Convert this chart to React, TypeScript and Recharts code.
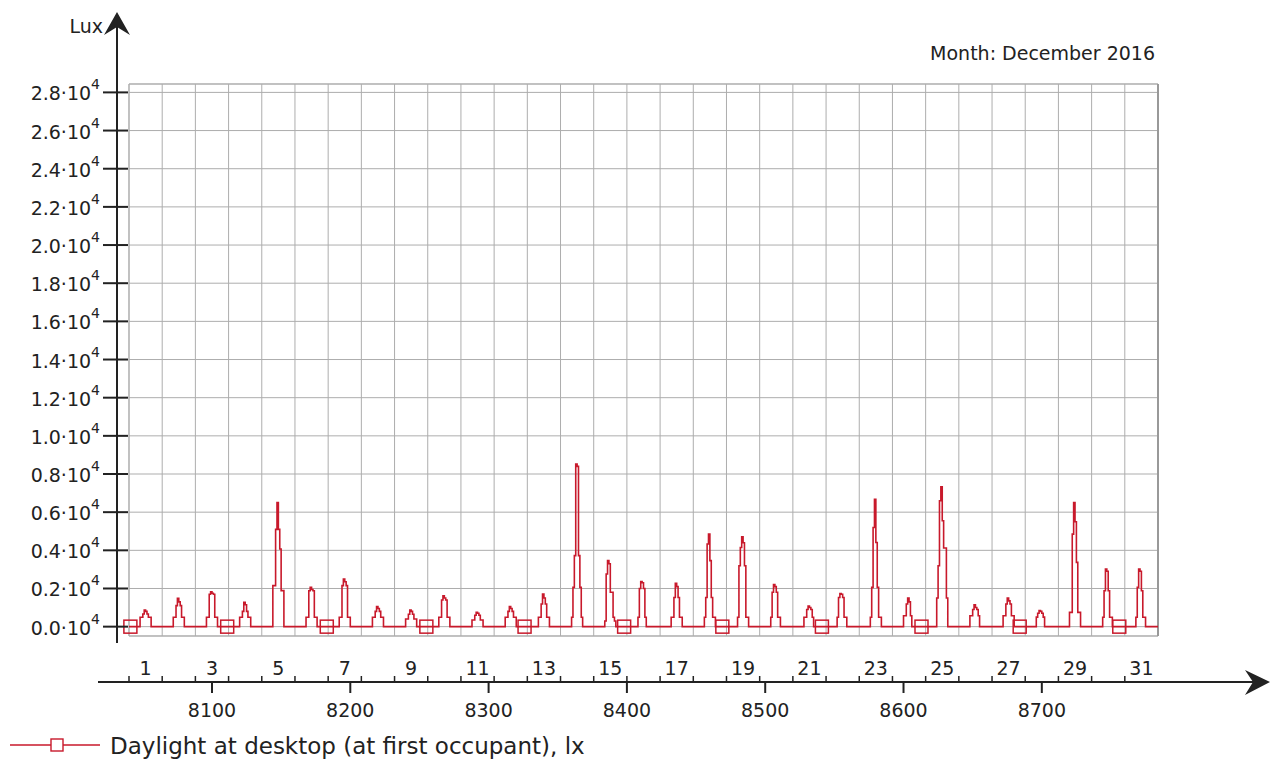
import React from "react";
import {
  LineChart,
  Line,
  XAxis,
  YAxis,
  CartesianGrid,
  ReferenceArea,
  ReferenceLine,
  Legend,
  Customized,
} from "recharts";

// Hour of year where December 2016 starts (leap year: 335 days * 24)
const FIRST_HOUR = 8040;
const HOURS_PER_DAY = 24;
// Each daily profile starts at 08:00
const PROFILE_START = 8;

// Hourly daylight at the desktop, lux, from 08:00 of each December day
const dailyLux: number[][] = [
  [490, 490, 660, 870, 800, 660, 490, 490],
  [490, 490, 1100, 1480, 1300, 1100, 490, 490],
  [490, 490, 1700, 1830, 1750, 1700, 490, 490],
  [490, 490, 800, 1270, 1150, 800, 490, 490],
  [2150, 2150, 5100, 6500, 5100, 4070, 1890, 1890],
  [490, 490, 1880, 2060, 1950, 1880, 490, 490],
  [490, 490, 2150, 2500, 2350, 2150, 490, 490],
  [490, 490, 800, 1050, 950, 800, 490, 490],
  [400, 400, 650, 870, 800, 650, 400, 400],
  [490, 490, 1400, 1620, 1500, 1400, 490, 490],
  [350, 350, 600, 750, 700, 600, 350, 350],
  [490, 490, 800, 1060, 950, 800, 490, 490],
  [490, 490, 1190, 1710, 1500, 1190, 490, 490],
  [490, 2060, 3720, 8520, 8400, 3720, 2060, 490],
  [300, 2760, 3460, 3300, 1800, 1800, 490, 300],
  [490, 2000, 2370, 2300, 2000, 490],
  [490, 490, 1530, 2270, 2100, 1530, 490, 490],
  [490, 1530, 4330, 4850, 3460, 1530, 490, 490],
  [490, 3190, 4150, 4710, 4400, 3190, 490, 490],
  [490, 1800, 2200, 2100, 1800, 490, 490],
  [490, 490, 900, 1080, 1000, 900, 490],
  [490, 1530, 1740, 1700, 1530, 490, 490],
  [490, 2060, 5200, 6680, 4410, 2060, 490, 490],
  [575, 575, 1190, 1500, 1300, 575],
  [1500, 3190, 6600, 7330, 5550, 4120, 4120, 1500],
  [575, 575, 900, 1150, 1000, 900, 575],
  [575, 575, 1190, 1500, 1350, 1190, 575, 575],
  [500, 700, 840, 800, 700, 500],
  [750, 750, 4850, 6510, 5500, 3370, 750, 750],
  [490, 1880, 3020, 2900, 1880, 490, 490],
  [490, 2060, 3020, 2900, 1880, 490, 490],
];

const dayNumbers = [
  1, 2, 3, 4, 5, 6, 7, 8, 9, 10, 11, 12, 13, 14, 15, 16, 17, 18, 19, 20, 21,
  22, 23, 24, 25, 26, 27, 28, 29, 30, 31,
];
const hourTicks = [8100, 8200, 8300, 8400, 8500, 8600, 8700];
const luxTicks = [
  0, 2000, 4000, 6000, 8000, 10000, 12000, 14000, 16000, 18000, 20000, 22000,
  24000, 26000, 28000,
];
// hours that carry the series marker
const markerHours = [8041, 8111, 8183, 8255, 8326, 8398, 8469, 8541, 8613, 8684, 8756];

const LAST_HOUR = FIRST_HOUR + dayNumbers.length * HOURS_PER_DAY;
const Y_DOMAIN: [number, number] = [-490, 28440];

const data: { hour: number; lux: number }[] = [];
dailyLux.forEach((profile, d) => {
  for (let h = 0; h < HOURS_PER_DAY; h++) {
    data.push({
      hour: FIRST_HOUR + d * HOURS_PER_DAY + h,
      lux: profile[h - PROFILE_START] ?? 0,
    });
  }
});
data.push({ hour: LAST_HOUR, lux: 0 });

const dayStarts = dayNumbers.map((d) => FIRST_HOUR + (d - 1) * HOURS_PER_DAY);
const oddDayMiddles = dayNumbers
  .filter((d) => d % 2 === 1)
  .map((d) => FIRST_HOUR + (d - 1) * HOURS_PER_DAY + HOURS_PER_DAY / 2);
const markerSet = new Set(markerHours);

// layout
const W = 1280;
const H = 763;
const PLOT_LEFT = 129;
const PLOT_TOP = 84;
const PLOT_RIGHT = 1158;
const PLOT_BOTTOM = 636;
const Y_AXIS_X = 117;
const X_AXIS_Y = 682;

const RED = "#c8192b";
const INK = "#222";
const GRID = "#adadad";
const FONT = "'DejaVu Sans', sans-serif";

const YTick = (props: any) => {
  const { y, payload } = props;
  return (
    <g>
      <line x1={PLOT_LEFT - 26} x2={PLOT_LEFT - 1} y1={y} y2={y} stroke={INK} strokeWidth={2} />
      <text x={PLOT_LEFT - 29} y={y + 8} textAnchor="end" fontFamily={FONT} fontSize={19} fill={INK}>
        {(payload.value / 10000).toFixed(1)}·10
        <tspan dy={-11} fontSize={14}>4</tspan>
      </text>
    </g>
  );
};

const HourTick = (props: any) => {
  const { x, payload } = props;
  return (
    <g>
      <line x1={x} x2={x} y1={X_AXIS_Y} y2={X_AXIS_Y + 11} stroke={INK} strokeWidth={2} />
      <text x={x} y={X_AXIS_Y + 35} textAnchor="middle" fontFamily={FONT} fontSize={19} fill={INK}>
        {payload.value}
      </text>
    </g>
  );
};

const DayTick = (props: any) => {
  const { x } = props;
  return <line x1={x} x2={x} y1={X_AXIS_Y - 6} y2={X_AXIS_Y} stroke={INK} strokeWidth={1.5} />;
};

const DayLabel = (props: any) => {
  const { x, payload } = props;
  const day = (payload.value - FIRST_HOUR - HOURS_PER_DAY / 2) / HOURS_PER_DAY + 1;
  return (
    <text x={x} y={X_AXIS_Y - 7} textAnchor="middle" fontFamily={FONT} fontSize={19} fill={INK}>
      {day}
    </text>
  );
};

const renderMarker = (props: any) => {
  const { cx, cy, payload, index } = props;
  if (!markerSet.has(payload.hour)) return <g key={`m${index}`} />;
  return (
    <rect
      key={`m${index}`}
      x={cx - 6.5}
      y={cy - 6.5}
      width={13}
      height={13}
      fill="none"
      stroke={RED}
      strokeWidth={1.5}
    />
  );
};

// arrowed axes and captions
const Frame = () => (
  <g fontFamily={FONT} fill={INK}>
    <line x1={Y_AXIS_X} x2={Y_AXIS_X} y1={20} y2={643} stroke={INK} strokeWidth={2} />
    <path d={`M${Y_AXIS_X},12 L${Y_AXIS_X - 13},35 L${Y_AXIS_X},27 L${Y_AXIS_X + 13},35 Z`} fill={INK} />
    <line x1={98} x2={1262} y1={X_AXIS_Y} y2={X_AXIS_Y} stroke={INK} strokeWidth={2} />
    <path d={`M1270,${X_AXIS_Y} L1245,${X_AXIS_Y - 12} L1253,${X_AXIS_Y} L1245,${X_AXIS_Y + 13} Z`} fill={INK} />
    <text x={103} y={33} textAnchor="end" fontSize={19}>Lux</text>
    <text x={1155} y={60} textAnchor="end" fontSize={19}>Month: December 2016</text>
  </g>
);

const LegendContent = () => (
  <svg width={620} height={34}>
    <line x1={10} x2={100} y1={15} y2={15} stroke={RED} strokeWidth={1.5} />
    <rect x={51} y={9} width={12} height={12} fill="#fff" stroke={RED} strokeWidth={1.4} />
    <text x={110} y={23.5} fontFamily={FONT} fontSize={23} fill={INK}>
      Daylight at desktop (at first occupant), lx
    </text>
  </svg>
);

export default function App() {
  return (
    <div style={{ position: "absolute", left: 0, top: 0, width: W, height: H, background: "#fff" }}>
      <LineChart
        width={W}
        height={H}
        data={data}
        margin={{ top: PLOT_TOP, right: W - PLOT_RIGHT, left: 0, bottom: H - PLOT_BOTTOM - 3 }}
      >
        <CartesianGrid xAxisId="grid" stroke={GRID} strokeWidth={1} />
        <XAxis
          xAxisId="grid"
          type="number"
          dataKey="hour"
          domain={[FIRST_HOUR, LAST_HOUR]}
          ticks={dayStarts}
          interval={0}
          height={1}
          axisLine={false}
          tickLine={false}
          tick={<DayTick />}
        />
        <XAxis
          xAxisId="dayLabel"
          type="number"
          dataKey="hour"
          domain={[FIRST_HOUR, LAST_HOUR]}
          ticks={oddDayMiddles}
          interval={0}
          height={1}
          axisLine={false}
          tickLine={false}
          tick={<DayLabel />}
        />
        <XAxis
          xAxisId="hour"
          type="number"
          dataKey="hour"
          domain={[FIRST_HOUR, LAST_HOUR]}
          ticks={hourTicks}
          interval={0}
          height={1}
          axisLine={false}
          tickLine={false}
          tick={<HourTick />}
        />
        <YAxis
          type="number"
          domain={Y_DOMAIN}
          ticks={luxTicks}
          interval={0}
          width={PLOT_LEFT}
          axisLine={false}
          tickLine={false}
          tick={<YTick />}
        />
        <ReferenceArea
          xAxisId="grid"
          x1={FIRST_HOUR}
          x2={LAST_HOUR}
          y1={Y_DOMAIN[0]}
          y2={Y_DOMAIN[1]}
          fill="none"
          stroke={GRID}
        />
        <ReferenceLine xAxisId="grid" x={LAST_HOUR} stroke="#999" strokeWidth={2} />
        <Line
          xAxisId="grid"
          type="stepAfter"
          dataKey="lux"
          stroke={RED}
          strokeWidth={1.6}
          dot={renderMarker}
          activeDot={false}
          isAnimationActive={false}
        />
        <Customized component={<Frame />} />
        <Legend
          layout="vertical"
          align="center"
          verticalAlign="middle"
          wrapperStyle={{ left: 0, top: 730, width: 620, height: 34 }}
          content={<LegendContent />}
        />
      </LineChart>
    </div>
  );
}
